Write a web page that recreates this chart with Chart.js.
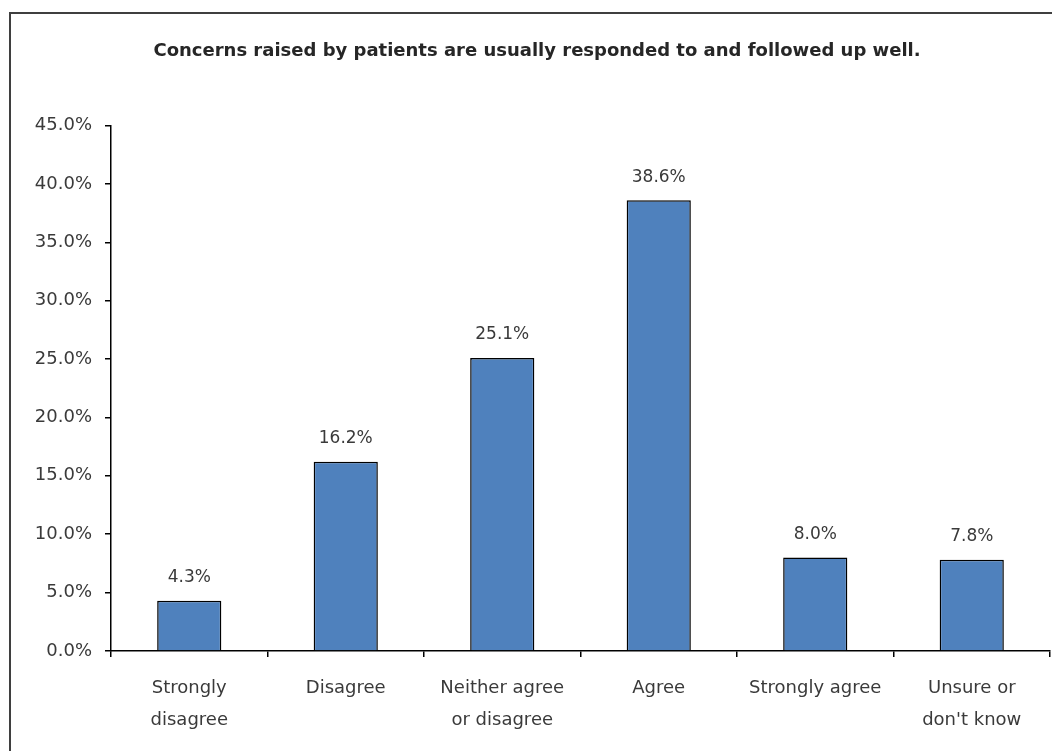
<!DOCTYPE html>
<html>
<head>
<meta charset="utf-8">
<script src="https://cdn.jsdelivr.net/npm/chart.js@4"></script>
<style>
  html, body { margin: 0; padding: 0; background: #fff; overflow: hidden; }
  #wrap { position: absolute; left: 0; top: 0; width: 1052px; height: 751px; }
  #frame { position: absolute; left: 9px; top: 12px; width: 2000px; height: 2000px;
           border-left: 2px solid #3f3f3f; border-top: 2px solid #3f3f3f; pointer-events: none; }
</style>
</head>
<body>
<div id="wrap"><canvas id="surveyChart"></canvas></div>
<div id="frame"></div>
<script>
const chartTitle = 'Concerns raised by patients are usually responded to and followed up well.';
const categories = [
    ['Strongly', 'disagree'],
    'Disagree',
    ['Neither agree', 'or disagree'],
    'Agree',
    'Strongly agree',
    ['Unsure or', "don't know"]
];
const percentages = [4.3, 16.2, 25.1, 38.6, 8.0, 7.8];
const yTicks = [0, 5, 10, 15, 20, 25, 30, 35, 40, 45];

const textColor = '#3a3a3a';
const fontFamily = '"DejaVu Sans", sans-serif';

// draws the value above every bar
const valueLabels = {
    id: 'valueLabels',
    afterDatasetsDraw(chart) {
        const ctx = chart.ctx;
        const meta = chart.getDatasetMeta(0);
        ctx.save();
        ctx.font = '17px ' + fontFamily;
        ctx.fillStyle = textColor;
        ctx.textAlign = 'center';
        ctx.textBaseline = 'middle';
        meta.data.forEach((bar, i) => {
            ctx.fillText(percentages[i].toFixed(1) + '%', bar.x, bar.y - 23);
        });
        ctx.restore();
    }
};

new Chart(document.getElementById('surveyChart'), {
    type: 'bar',
    data: {
        labels: categories,
        datasets: [{
            data: percentages,
            backgroundColor: '#4F81BD',
            borderColor: '#000',
            borderWidth: 1.5,
            barPercentage: 0.41,
            categoryPercentage: 1.0
        }]
    },
    options: {
        responsive: true,
        maintainAspectRatio: false,
        animation: false,
        layout: { padding: { left: 24, right: 2, top: 0, bottom: 0 } },
        plugins: {
            legend: { display: false },
            tooltip: { enabled: false },
            title: {
                display: true,
                text: chartTitle,
                color: '#262626',
                font: { family: fontFamily, size: 18, weight: 'bold', lineHeight: 1.2 },
                padding: { top: 41, bottom: 63 }
            }
        },
        scales: {
            x: {
                offset: true,
                grid: { display: true, drawOnChartArea: false, offset: true, color: '#000', tickLength: 6, lineWidth: 1.5 },
                border: { display: true, color: '#000', width: 1.5 },
                ticks: {
                    color: textColor,
                    padding: 15,
                    maxRotation: 0,
                    autoSkip: false,
                    font: { family: fontFamily, size: 18, lineHeight: 1.78 }
                }
            },
            y: {
                min: 0,
                max: 45,
                afterFit(scale) { scale.width = 87; },
                afterBuildTicks(scale) { scale.ticks = yTicks.map(v => ({ value: v })); },
                grid: { display: true, drawOnChartArea: false, color: '#000', tickLength: 6, lineWidth: 1.5 },
                border: { display: true, color: '#000', width: 1.5 },
                ticks: {
                    color: textColor,
                    padding: 13,
                    font: { family: fontFamily, size: 18 },
                    callback: v => Number(v).toFixed(1) + '%'
                }
            }
        }
    },
    plugins: [valueLabels]
});
</script>
</body>
</html>
